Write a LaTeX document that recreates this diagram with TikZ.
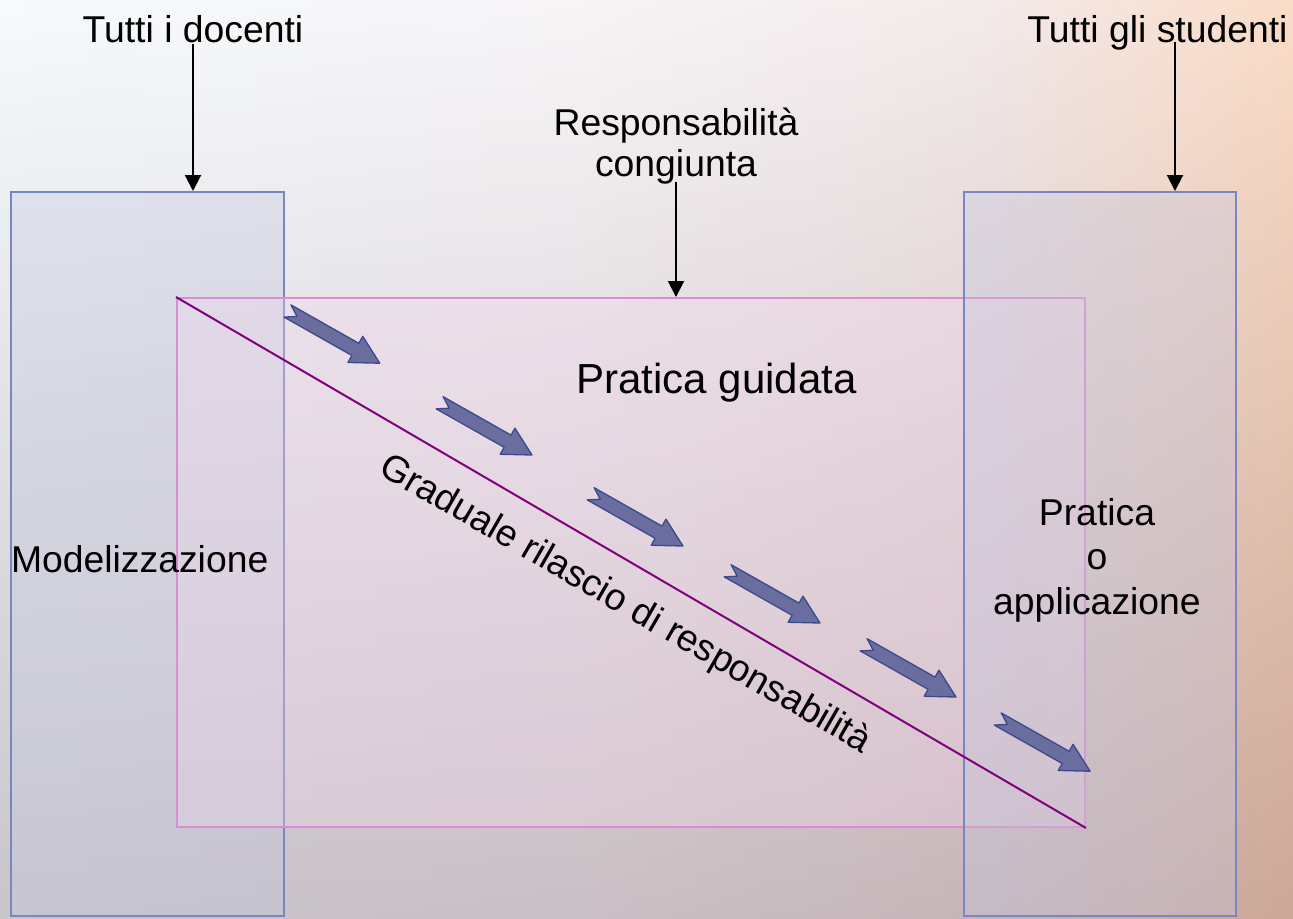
\documentclass[tikz,border=0pt]{standalone}
\usepackage{fontspec}
\setmainfont{Liberation Sans}
\usetikzlibrary{arrows.meta,fit}

\definecolor{boxblue}{RGB}{122,134,196}
\definecolor{boxpink}{RGB}{216,142,208}
\definecolor{boxfill}{RGB}{196,198,224}
\definecolor{pinkfill}{RGB}{244,214,238}
\definecolor{diagpurple}{RGB}{128,0,128}
\definecolor{arrowfill}{RGB}{106,110,158}
\definecolor{arrowdraw}{RGB}{62,74,142}
\definecolor{bgleft}{RGB}{240,248,252}
\definecolor{bgmid}{RGB}{242,238,242}
\definecolor{bgmidright}{RGB}{236,220,220}
\definecolor{bgright}{RGB}{248,196,160}
\definecolor{bgdark}{RGB}{146,128,136}

\pgfdeclarehorizontalshading{slidebg}{100bp}{color(0bp)=(bgleft); color(25bp)=(bgleft); color(47bp)=(bgmid); color(63bp)=(bgmidright); color(75bp)=(bgright); color(100bp)=(bgright)}

\tikzset{every picture/.style={line width=0.75pt}}
\tikzset{
  sidebox/.style={draw=boxblue, line width=1.5pt, fill=boxfill, fill opacity=0.35, inner sep=0pt},
  midbox/.style={draw=boxpink, line width=1.5pt, fill=pinkfill, fill opacity=0.3, inner sep=0pt},
  diagline/.style={draw=diagpurple, line width=1.5pt},
  blockarrow/.style={fill=arrowfill, draw=arrowdraw, line width=1pt, line join=round},
  blackarrow/.style={draw=black, line width=1.5pt, -{Triangle[width=12pt,length=12pt]}},
  label/.style={inner sep=0.75pt, font=\fontsize{28}{31}\selectfont},
  biglabel/.style={inner sep=0.75pt, font=\fontsize{31.5}{36}\selectfont}
}

\begin{document}
\begin{tikzpicture}[x=0.75pt,y=0.75pt,yscale=-1,xscale=1]
%Background
\shade [shading=slidebg] (0,0) rectangle (1293,918);
\shade [top color=white, bottom color=bgdark, opacity=0.42] (0,0) rectangle (1293,918);

%Shape: Rectangle [modellizzazione]
\node [sidebox, fit={(11,192) (284,916)}] (modello) {};
%Shape: Rectangle [pratica guidata]
\node [midbox, fit={(177,298) (1085,827)}] (guidata) {};
%Shape: Rectangle [applicazione]
\node [sidebox, fit={(964,192) (1236,916)}] (pratica) {};

%Straight Lines
\draw [diagline] (guidata.north west) -- (guidata.south east);

%Shape: Notched Right Arrow
\draw [blockarrow, shift={(287.5,311)}, rotate=29.5] (0,-7) -- (78,-7) -- (78,-15) -- (106,0) -- (78,15) -- (78,7) -- (0,7) -- (11,0) -- cycle ;
%Shape: Notched Right Arrow
\draw [blockarrow, shift={(439.7,402.8)}, rotate=29.5] (0,-7) -- (78,-7) -- (78,-15) -- (106,0) -- (78,15) -- (78,7) -- (0,7) -- (11,0) -- cycle ;
%Shape: Notched Right Arrow
\draw [blockarrow, shift={(590.7,493.8)}, rotate=29.5] (0,-7) -- (78,-7) -- (78,-15) -- (106,0) -- (78,15) -- (78,7) -- (0,7) -- (11,0) -- cycle ;
%Shape: Notched Right Arrow
\draw [blockarrow, shift={(727.7,570.8)}, rotate=29.5] (0,-7) -- (78,-7) -- (78,-15) -- (106,0) -- (78,15) -- (78,7) -- (0,7) -- (11,0) -- cycle ;
%Shape: Notched Right Arrow
\draw [blockarrow, shift={(863.7,644.8)}, rotate=29.5] (0,-7) -- (78,-7) -- (78,-15) -- (106,0) -- (78,15) -- (78,7) -- (0,7) -- (11,0) -- cycle ;
%Shape: Notched Right Arrow
\draw [blockarrow, shift={(997.8,719)}, rotate=29.5] (0,-7) -- (78,-7) -- (78,-15) -- (106,0) -- (78,15) -- (78,7) -- (0,7) -- (11,0) -- cycle ;

% Text Node
\node [label, anchor=base] (docenti) at (193,42.5) {Tutti i docenti};
% Text Node
\node [label, anchor=base] (studenti) at (1157.5,42.5) {Tutti gli studenti};
% Text Node
\node [label, align=center] (congiunta) at (676,146) {Responsabilità\\congiunta};
% Text Node
\node [biglabel, anchor=base] (pratguid) at (716.5,393.3) {Pratica guidata};
% Text Node
\node [label, anchor=base] (modtext) at (139.7,572.5) {Modelizzazione};
% Text Node
\node [label, align=center, font=\fontsize{28}{33.4}\selectfont] (applic) at (1097,560) {Pratica\\o\\applicazione};
% Text Node
\node [label, rotate=-30] (rilascio) at (625,605) {Graduale rilascio di responsabilità};

\coordinate (studarrow) at (1175,42);
%Straight Lines
\draw [blackarrow] (docenti.south) -- (docenti.south |- modello.north);
\draw [blackarrow] (studarrow) -- (studarrow |- pratica.north);
\draw [blackarrow] ([yshift=-3pt]congiunta.south) -- (congiunta.south |- guidata.north);

\end{tikzpicture}
\end{document}
